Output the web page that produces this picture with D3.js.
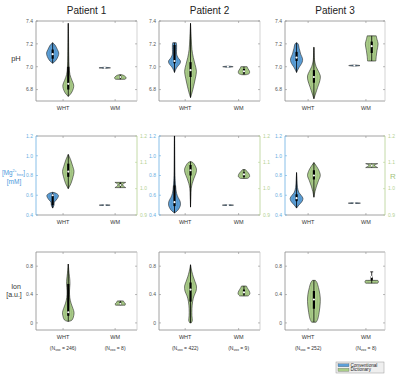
<!DOCTYPE html>
<html>
<head>
<meta charset="utf-8">
<script src="https://cdn.jsdelivr.net/npm/d3@7"></script>
<style>
body { margin: 0; background: #fff; }
svg { font-family: "Liberation Sans", Arial, sans-serif; }
</style>
</head>
<body>
<div id="chart"></div>
<script>
// Data
const patients = ["Patient 1", "Patient 2", "Patient 3"];
const groups = ["WHT", "WM"];
const nVox = [["246", "8"], ["422", "9"], ["252", "8"]];

const phTicks = [6.8, 7.0, 7.2, 7.4];
const mgTicks = [0.4, 0.6, 0.8, 1.0, 1.2];
const rTicks = [0.9, 1.0, 1.1, 1.2];
const ionTicks = [0, 0.4, 0.8];

// each violin: stats [min, q1, median, q3, max], profile [[value, relative half width]]
const phConv = [
  [{stats: [7.03, 7.07, 7.11, 7.15, 7.21], prof: [[7.03,0],[7.05,0.4],[7.09,0.8],[7.12,0.9],[7.15,0.7],[7.19,0.35],[7.21,0]]},
   {stats: [6.985, 6.988, 6.99, 6.992, 6.995], prof: [[6.985,0.1],[6.99,0.85],[6.995,0.1]]}],
  [{stats: [6.95, 7.03, 7.05, 7.19, 7.21], prof: [[6.95,0],[6.99,0.3],[7.03,0.8],[7.05,0.85],[7.08,0.5],[7.11,0.3],[7.15,0.3],[7.19,0.3],[7.21,0.25]]},
   {stats: [6.995, 6.998, 7.0, 7.002, 7.005], prof: [[6.995,0.1],[7.0,0.75],[7.005,0.1]]}],
  [{stats: [6.95, 7.05, 7.08, 7.13, 7.21], prof: [[6.95,0],[6.99,0.3],[7.04,0.75],[7.07,0.8],[7.11,0.55],[7.16,0.35],[7.2,0.2],[7.21,0]]},
   {stats: [7.005, 7.008, 7.01, 7.012, 7.015], prof: [[7.005,0.1],[7.01,0.75],[7.015,0.1]]}]
];
const phDict = [
  [{stats: [6.74, 6.80, 6.85, 7.0, 7.38], prof: [[6.74,0],[6.77,0.45],[6.81,0.75],[6.84,0.8],[6.88,0.55],[6.93,0.25],[7.0,0.12],[7.1,0.07],[7.25,0.04],[7.38,0]]},
   {stats: [6.89, 6.9, 6.91, 6.92, 6.93], prof: [[6.89,0.7],[6.9,0.85],[6.91,0.8],[6.925,0.45],[6.93,0.2]]}],
  [{stats: [6.73, 6.91, 6.97, 7.04, 7.38], prof: [[6.73,0],[6.77,0.2],[6.83,0.45],[6.9,0.7],[6.96,0.85],[7.02,0.65],[7.08,0.4],[7.15,0.2],[7.25,0.1],[7.38,0]]},
   {stats: [6.93, 6.94, 6.96, 6.98, 7.0], prof: [[6.93,0.3],[6.94,0.75],[6.96,0.8],[6.98,0.6],[7.0,0.45]]}],
  [{stats: [6.72, 6.86, 6.91, 6.97, 7.17], prof: [[6.72,0],[6.76,0.2],[6.82,0.5],[6.88,0.8],[6.92,0.85],[6.96,0.6],[7.0,0.3],[7.05,0.1],[7.17,0.02]]},
   {stats: [7.05, 7.12, 7.18, 7.22, 7.27], prof: [[7.05,0.55],[7.09,0.6],[7.14,0.7],[7.2,0.85],[7.24,0.7],[7.27,0.6]]}]
];
const mgConv = [
  [{stats: [0.47, 0.5, 0.6, 0.61, 0.63], prof: [[0.47,0],[0.5,0.2],[0.53,0.25],[0.55,0.5],[0.58,0.8],[0.6,0.85],[0.62,0.5],[0.63,0]]},
   {stats: [0.497, 0.499, 0.5, 0.501, 0.503], prof: [[0.497,0.1],[0.5,0.8],[0.503,0.1]]}],
  [{stats: [0.42, 0.49, 0.53, 0.7, 1.2], prof: [[0.42,0],[0.45,0.5],[0.5,0.85],[0.54,0.8],[0.58,0.5],[0.62,0.3],[0.7,0.15],[0.8,0.07],[1.0,0.04],[1.2,0.02]]},
   {stats: [0.497, 0.499, 0.5, 0.501, 0.503], prof: [[0.497,0.1],[0.5,0.8],[0.503,0.1]]}],
  [{stats: [0.47, 0.54, 0.57, 0.61, 0.83], prof: [[0.47,0],[0.5,0.3],[0.54,0.75],[0.57,0.85],[0.6,0.6],[0.63,0.3],[0.68,0.12],[0.75,0.06],[0.83,0]]},
   {stats: [0.517, 0.519, 0.52, 0.521, 0.523], prof: [[0.517,0.1],[0.52,0.8],[0.523,0.1]]}]
];
const rDict = [
  [{stats: [1.0, 1.045, 1.065, 1.095, 1.13], prof: [[1.0,0],[1.02,0.4],[1.045,0.7],[1.065,0.85],[1.09,0.6],[1.11,0.35],[1.13,0]]},
   {stats: [1.004, 1.01, 1.014, 1.02, 1.024], prof: [[1.004,0.8],[1.01,0.45],[1.016,0.35],[1.024,0.8]]}],
  [{stats: [0.93, 1.05, 1.07, 1.09, 1.103], prof: [[0.93,0],[0.97,0.05],[1.0,0.1],[1.02,0.25],[1.04,0.5],[1.06,0.8],[1.075,0.85],[1.09,0.6],[1.1,0.3],[1.103,0]]},
   {stats: [1.039, 1.045, 1.054, 1.062, 1.0725], prof: [[1.039,0.5],[1.045,0.8],[1.055,0.75],[1.065,0.45],[1.0725,0.2]]}],
  [{stats: [0.9675, 1.035, 1.05, 1.07, 1.099], prof: [[0.9675,0],[0.99,0.15],[1.01,0.35],[1.03,0.6],[1.05,0.85],[1.07,0.65],[1.085,0.35],[1.099,0]]},
   {stats: [1.08, 1.085, 1.0875, 1.09, 1.095], prof: [[1.08,0.8],[1.086,0.45],[1.09,0.35],[1.095,0.8]]}]
];
const ionDict = [
  [{stats: [0.02, 0.1, 0.15, 0.55, 0.83], prof: [[0.02,0],[0.04,0.55],[0.1,0.8],[0.15,0.85],[0.2,0.7],[0.28,0.4],[0.36,0.22],[0.45,0.18],[0.55,0.25],[0.62,0.22],[0.7,0.12],[0.83,0]]},
   {stats: [0.25, 0.26, 0.27, 0.29, 0.31], prof: [[0.25,0.7],[0.27,0.75],[0.29,0.55],[0.31,0.45]]}],
  [{stats: [0.0, 0.3, 0.47, 0.57, 0.82], prof: [[0.0,0.1],[0.03,0.25],[0.1,0.2],[0.2,0.2],[0.3,0.3],[0.38,0.5],[0.45,0.8],[0.52,0.85],[0.58,0.65],[0.65,0.4],[0.72,0.2],[0.82,0]]},
   {stats: [0.38, 0.4, 0.43, 0.47, 0.52], prof: [[0.38,0.6],[0.41,0.85],[0.45,0.75],[0.49,0.5],[0.52,0.35]]}],
  [{stats: [0.01, 0.2, 0.33, 0.45, 0.6], prof: [[0.01,0.3],[0.05,0.5],[0.15,0.7],[0.3,0.85],[0.4,0.8],[0.5,0.6],[0.57,0.4],[0.6,0.2]]},
   {stats: [0.56, 0.6, 0.65, 0.66, 0.72], prof: [[0.56,0.8],[0.58,0.9],[0.6,0.8]], cap: true}]
];

// Layout
const width = 400, height = 385;
const colBox = [[36, 137], [159, 260], [285, 385]];
const rowBox = [[21, 101], [136, 215], [252, 330]];
const xLims = [[0.48, 2.42], [0.51, 2.40], [0.6, 2.33]];
const convOffset = -0.2, dictOffset = 0.1, halfW = 0.13;
const blue = "#5b9fd8", green = "#a9cc88";
const blueAxis = "#6aaee2", greenAxis = "#b5d193", grey = "#8c8c8c";

const svg = d3.select("#chart").append("svg")
  .attr("width", width).attr("height", height);

function drawViolin(g, v, cx, x, y, fill) {
  const px = halfW * (x(1) - x(0));
  const area = d3.area()
    .curve(d3.curveCatmullRom)
    .y(d => y(d[0]))
    .x0(d => cx - d[1] * px)
    .x1(d => cx + d[1] * px);
  g.append("path").attr("d", area(v.prof))
    .attr("fill", fill).attr("stroke", "#2a2a2a").attr("stroke-width", 0.6);
  const inner = d3.area()
    .curve(d3.curveCatmullRom)
    .y(d => y(d[0]))
    .x0(d => cx - d[1] * px * 0.55)
    .x1(d => cx + d[1] * px * 0.55);
  g.append("path").attr("d", inner(v.prof))
    .attr("fill", "none").attr("stroke", "rgba(0,0,0,0.18)").attr("stroke-width", 0.4);
  const [mn, q1, md, q3, mx] = v.stats;
  g.append("line").attr("x1", cx).attr("x2", cx)
    .attr("y1", y(mn)).attr("y2", y(mx))
    .attr("stroke", "#000").attr("stroke-width", 0.8);
  if (v.cap) {
    g.append("line").attr("x1", cx - 1.5).attr("x2", cx + 1.5)
      .attr("y1", y(mx)).attr("y2", y(mx))
      .attr("stroke", "#000").attr("stroke-width", 0.8);
  }
  g.append("line").attr("x1", cx).attr("x2", cx)
    .attr("y1", y(q1)).attr("y2", y(q3))
    .attr("stroke", "#000").attr("stroke-width", 2.2);
  g.append("circle").attr("cx", cx).attr("cy", y(md)).attr("r", 1.1)
    .attr("fill", "#fff");
}

function drawYAxis(g, y, ticks, xPos, side, color, fmt) {
  g.append("line").attr("x1", xPos).attr("x2", xPos)
    .attr("y1", y.range()[0]).attr("y2", y.range()[1])
    .attr("stroke", color).attr("stroke-width", 0.8);
  ticks.forEach(t => {
    g.append("line").attr("x1", xPos).attr("x2", xPos - side * 2)
      .attr("y1", y(t)).attr("y2", y(t)).attr("stroke", color).attr("stroke-width", 0.6);
    g.append("text").attr("x", xPos + side * 3).attr("y", y(t) + 1.8)
      .attr("text-anchor", side < 0 ? "end" : "start")
      .attr("font-size", 5).attr("fill", color === grey ? "#555" : color)
      .text(fmt(t));
  });
}

const rows = [
  {conv: phConv, dict: phDict, domain: [6.7, 7.4], ticks: phTicks, fmt: d3.format(".1f")},
  {conv: mgConv, dict: rDict, domain: [0.4, 1.2], ticks: mgTicks, fmt: d3.format(".1f"),
   rDomain: [0.9, 1.2], rTicks: rTicks},
  {conv: null, dict: ionDict, domain: [-0.1, 1.0], ticks: ionTicks, fmt: d => d === 0 ? "0" : d3.format(".1f")(d)}
];

rows.forEach((row, r) => {
  const [top, bottom] = rowBox[r];
  patients.forEach((p, c) => {
    const [left, right] = colBox[c];
    const x = d3.scaleLinear().domain(xLims[c]).range([left, right]);
    const y = d3.scaleLinear().domain(row.domain).range([bottom, top]);
    const yR = row.rDomain ? d3.scaleLinear().domain(row.rDomain).range([bottom, top]) : y;
    const g = svg.append("g");

    // box
    g.append("line").attr("x1", left).attr("x2", right).attr("y1", top).attr("y2", top)
      .attr("stroke", grey).attr("stroke-width", 0.8);
    g.append("line").attr("x1", left).attr("x2", right).attr("y1", bottom).attr("y2", bottom)
      .attr("stroke", grey).attr("stroke-width", 0.8);
    if (row.rDomain) {
      drawYAxis(g, y, row.ticks, left, -1, blueAxis, row.fmt);
      drawYAxis(g, yR, row.rTicks, right, 1, greenAxis, d3.format(".1f"));
    } else {
      drawYAxis(g, y, row.ticks, left, -1, grey, row.fmt);
      g.append("line").attr("x1", right).attr("x2", right).attr("y1", top).attr("y2", bottom)
        .attr("stroke", "#c8c8c8").attr("stroke-width", 0.8);
      row.ticks.forEach(t => {
        g.append("line").attr("x1", right).attr("x2", right - 2)
          .attr("y1", y(t)).attr("y2", y(t)).attr("stroke", grey).attr("stroke-width", 0.6);
      });
    }

    // x ticks
    groups.forEach((grp, i) => {
      const gx = x(i + 1);
      g.append("line").attr("x1", gx).attr("x2", gx).attr("y1", bottom).attr("y2", bottom - 2)
        .attr("stroke", grey).attr("stroke-width", 0.6);
      g.append("line").attr("x1", gx).attr("x2", gx).attr("y1", top).attr("y2", top + 2)
        .attr("stroke", grey).attr("stroke-width", 0.6);
      g.append("text").attr("x", gx).attr("y", bottom + 9)
        .attr("text-anchor", "middle").attr("font-size", 5.5).attr("fill", "#333")
        .text(grp);
      if (r === 2) {
        const t = g.append("text").attr("x", gx).attr("y", bottom + 20)
          .attr("text-anchor", "middle").attr("font-size", 5).attr("fill", "#333");
        t.append("tspan").text("(N");
        t.append("tspan").attr("font-size", 3.5).attr("dy", 1).text("vox");
        t.append("tspan").attr("dy", -1).text(" = " + nVox[c][i] + ")");
      }
    });

    // violins
    groups.forEach((grp, i) => {
      if (row.conv) drawViolin(g, row.conv[c][i], x(i + 1 + convOffset), x, y, blue);
      drawViolin(g, row.dict[c][i], x(i + 1 + dictOffset), x, yR, green);
    });

    if (r === 0) {
      g.append("text").attr("x", (left + right) / 2).attr("y", 14)
        .attr("text-anchor", "middle").attr("font-size", 10).attr("fill", "#222")
        .text(p);
    }
  });
});

// row labels
svg.append("text").attr("x", 16).attr("y", 61).attr("text-anchor", "middle")
  .attr("font-size", 7.5).attr("fill", "#333").text("pH");
const mg = svg.append("text").attr("x", 13.5).attr("y", 175).attr("text-anchor", "middle")
  .attr("font-size", 6.3).attr("fill", "#4a98dc");
mg.append("tspan").text("[Mg");
mg.append("tspan").attr("font-size", 3.8).attr("dy", -2.6).text("2+");
mg.append("tspan").attr("font-size", 3.8).attr("dy", 4).text("free");
mg.append("tspan").attr("dy", -1.4).text("]");
svg.append("text").attr("x", 14).attr("y", 184).attr("text-anchor", "middle")
  .attr("font-size", 6.5).attr("fill", "#4a98dc").text("[mM]");
svg.append("text").attr("x", 393).attr("y", 179).attr("text-anchor", "middle")
  .attr("font-size", 8).attr("fill", "#a3c47e").text("R");
svg.append("text").attr("x", 16).attr("y", 289).attr("text-anchor", "middle")
  .attr("font-size", 7).attr("fill", "#333").text("Ion");
svg.append("text").attr("x", 14).attr("y", 297).attr("text-anchor", "middle")
  .attr("font-size", 7).attr("fill", "#333").text("[a.u.]");

// legend
const legendItems = [["Conventional", blue], ["Dictionary", green]];
const lg = svg.append("g").attr("transform", "translate(336,362)");
lg.append("rect").attr("width", 48).attr("height", 11)
  .attr("fill", "#efefef").attr("stroke", "#999").attr("stroke-width", 0.5);
legendItems.forEach(([name, col], i) => {
  lg.append("rect").attr("x", 2).attr("y", 1.8 + i * 4.5).attr("width", 11).attr("height", 3)
    .attr("fill", col).attr("stroke", "#555").attr("stroke-width", 0.3);
  lg.append("text").attr("x", 14.5).attr("y", 4.6 + i * 4.5)
    .attr("font-size", 4.6).attr("fill", "#222").text(name);
});
</script>
</body>
</html>
